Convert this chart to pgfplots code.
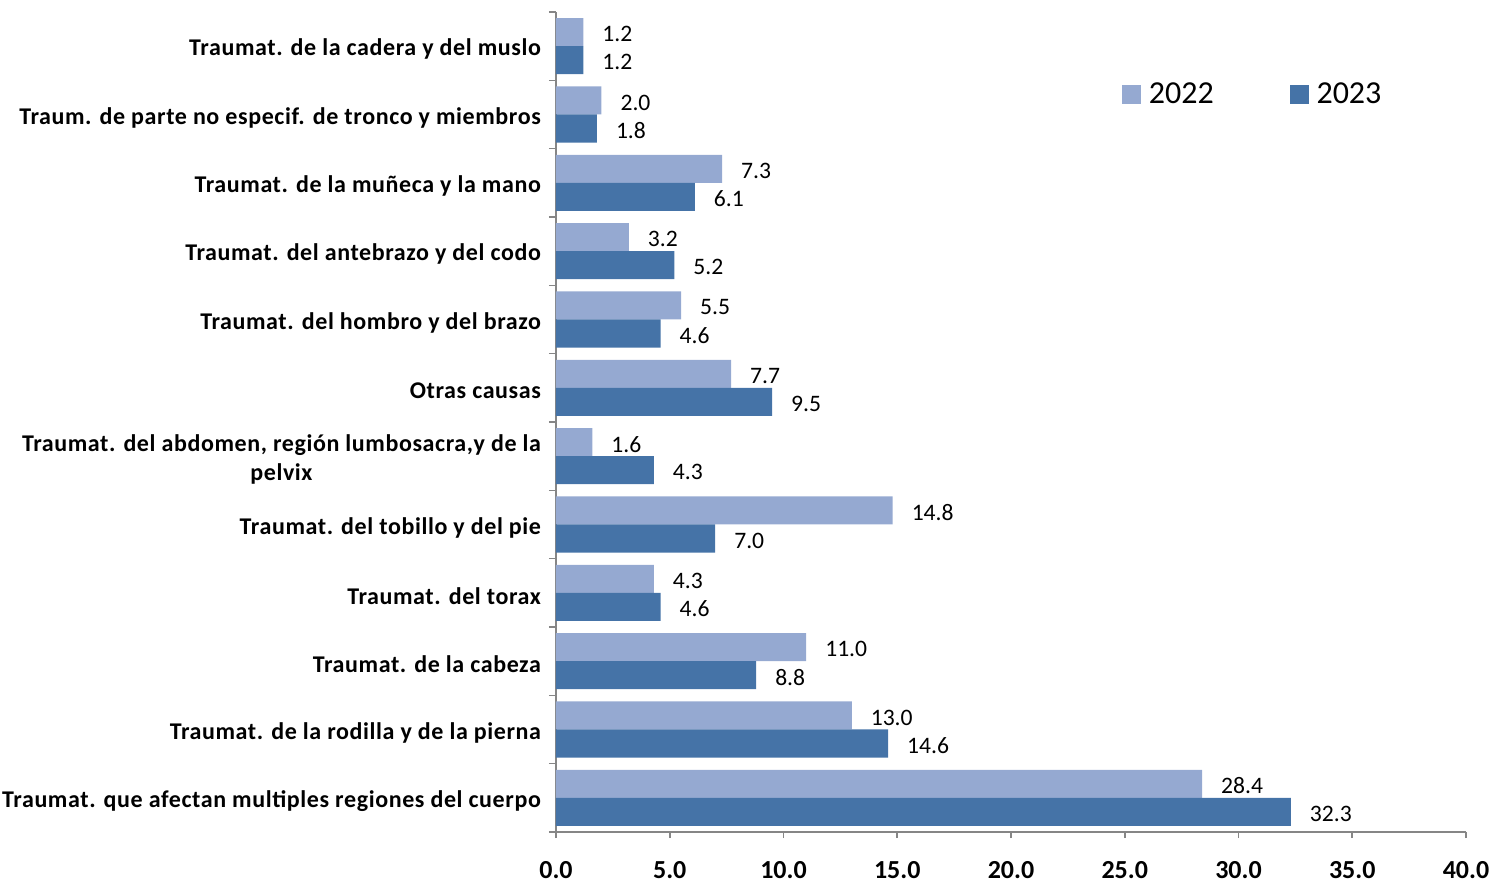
\documentclass[border=0pt]{standalone}
\usepackage{fontspec}
\setmainfont{Carlito}
\usepackage{pgfplots}
\pgfplotsset{compat=1.18}
\definecolor{c22}{HTML}{95A9D1}
\definecolor{c23}{HTML}{4573A7}
\definecolor{axgray}{HTML}{868686}
\begin{document}
\begin{tikzpicture}
\useasboundingbox (-278pt,-25pt) rectangle (470.5pt,416pt);
\pgfkeys{/pgf/number format/.cd, fixed, fixed zerofill, precision=1, assume math mode=true}
\begin{axis}[
  at={(0,0)}, anchor=south west,
  scale only axis, width=455pt, height=410pt,
  xbar, bar width=0.41,
  xmin=0, xmax=40, ymin=-0.5, ymax=11.5,
  xtick={0,5,...,40},
  ytick={0,...,11},
  minor ytick={-0.5,0.5,...,11.5},
  yticklabels={
    Traumat. que afectan multiples regiones del cuerpo,
    Traumat. de la rodilla y de la pierna,
    Traumat. de la cabeza,
    Traumat. del torax,
    Traumat. del tobillo y del pie,
    {Traumat. del abdomen, región lumbosacra,y  de la\\pelvix},
    Otras causas,
    Traumat. del hombro y del brazo,
    Traumat. del antebrazo y del codo,
    Traumat. de la muñeca y la mano,
    Traum. de parte no especif. de tronco y  miembros,
    Traumat. de la cadera y del muslo},
  yticklabel style={font=\bfseries\fontsize{12}{14.5}\selectfont\addfontfeature{LetterSpace=2.5}, align=center, xshift=-1pt, yshift=-1.5pt},
  xticklabel style={font=\bfseries\fontsize{13}{15}\selectfont, yshift=-8pt},
  tick align=outside,
  major tick length=3pt, minor tick length=3.5pt,
  every major y tick/.append style={draw=none},
  axis x line*=bottom, axis y line*=left,
  axis line style={axgray, line width=0.8pt},
  tick style={axgray, line width=0.8pt},
  point meta=x,
  nodes near coords,
  nodes near coords style={font=\fontsize{11.8}{14}\selectfont, anchor=west, xshift=6pt, yshift=-1pt, text=black},
  legend style={at={(0.615,0.899)}, anchor=west, draw=none, fill=none,
    font=\fontsize{16}{19}\selectfont, legend columns=2,
    /tikz/every odd column/.append style={column sep=2pt},
    /tikz/every even column/.append style={column sep=36pt}},
]
\addlegendimage{legend image code/.code={\fill[c22] (0pt,-4.5pt) rectangle (9pt,4.5pt);}}
\addlegendentry{2022}
\addlegendimage{legend image code/.code={\fill[c23] (0pt,-4.5pt) rectangle (9pt,4.5pt);}}
\addlegendentry{2023}
\addplot[fill=c22, draw=none, bar shift=0.205, forget plot] coordinates {
  (28.4,0) (13.0,1) (11.0,2) (4.3,3) (14.8,4) (1.6,5) (7.7,6) (5.5,7) (3.2,8) (7.3,9) (2.0,10) (1.2,11)};
\addplot[fill=c23, draw=none, bar shift=-0.205, forget plot] coordinates {
  (32.3,0) (14.6,1) (8.8,2) (4.6,3) (7.0,4) (4.3,5) (9.5,6) (4.6,7) (5.2,8) (6.1,9) (1.8,10) (1.2,11)};
\end{axis}
\end{tikzpicture}
\end{document}
